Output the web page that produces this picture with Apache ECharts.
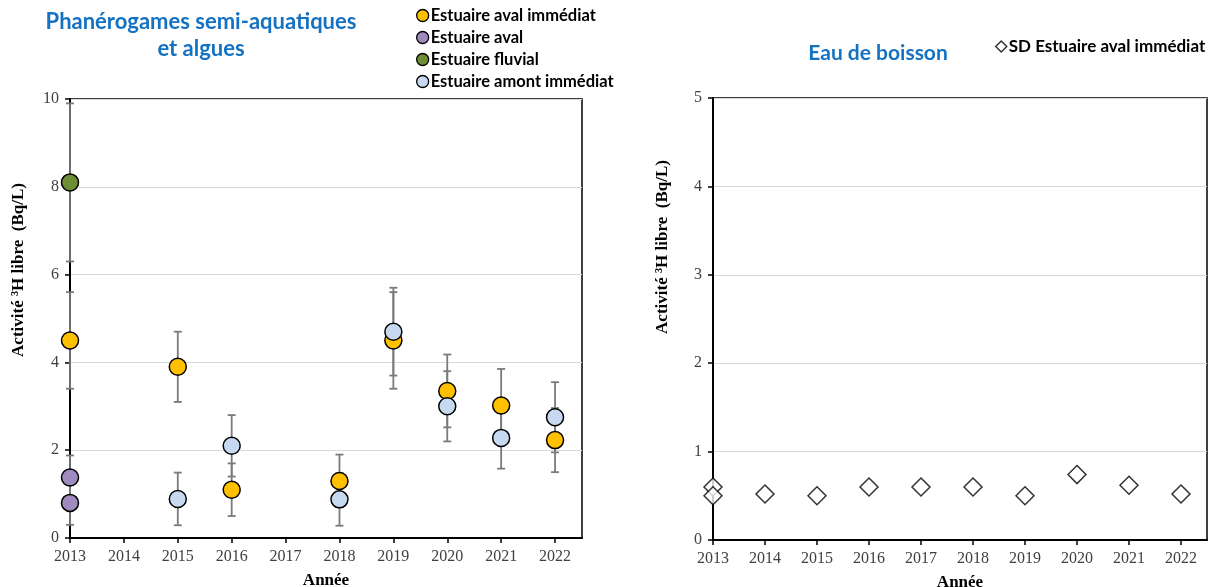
<!DOCTYPE html>
<html>
<head>
<meta charset="utf-8">
<script src="https://cdn.jsdelivr.net/npm/echarts@6/dist/echarts.min.js"></script>
<style>
html,body{margin:0;padding:0;background:#fff;}
#chart{width:1215px;height:587px;}
</style>
</head>
<body>
<div id="chart"></div>
<script>
// ---- Data ----
const years = [2013, 2014, 2015, 2016, 2017, 2018, 2019, 2020, 2021, 2022];
const leftTicks = [0, 2, 4, 6, 8, 10];
const rightTicks = [0, 1, 2, 3, 4, 5];

const avalImmediatX = [2013, 2015, 2016, 2018, 2019, 2020, 2021, 2022];
const avalImmediatY = [4.5, 3.9, 1.1, 1.3, 4.5, 3.35, 3.02, 2.23];
const avalImmediatErr = [1.1, 0.8, 0.6, 0.6, 1.1, 0.83, 0.83, 0.73];

const avalX = [2013, 2013];
const avalY = [1.38, 0.8];
const avalErr = [0.5, 0.5];

const fluvialX = [2013];
const fluvialY = [8.1];
const fluvialErr = [1.8];

const amontX = [2015, 2016, 2018, 2019, 2020, 2021, 2022];
const amontY = [0.89, 2.1, 0.88, 4.7, 3.0, 2.28, 2.75];
const amontErr = [0.6, 0.7, 0.6, 1.0, 0.8, 0.7, 0.8];

const eauX = [2013, 2013, 2014, 2015, 2016, 2017, 2018, 2019, 2020, 2021, 2022];
const eauY = [0.60, 0.50, 0.52, 0.50, 0.60, 0.60, 0.60, 0.50, 0.74, 0.62, 0.52];

// ---- Helpers ----
const pts = (xs, ys) => xs.map((x, i) => [x, ys[i]]);
const errs = (xs, ys, es) => xs.map((x, i) => [x, ys[i] - es[i], ys[i] + es[i]]);

const serif = 'Liberation Serif';
const sans = 'Lato';
const blue = '#1572C2';

function errorRender(params, api) {
  const x = api.value(0);
  const lo = api.coord([x, api.value(1)]);
  const hi = api.coord([x, api.value(2)]);
  const w = 4;
  const style = { stroke: '#7a7a7a', lineWidth: 1.8 };
  return {
    type: 'group',
    children: [
      { type: 'line', shape: { x1: lo[0], y1: lo[1], x2: hi[0], y2: hi[1] }, style },
      { type: 'line', shape: { x1: lo[0] - w, y1: lo[1], x2: lo[0] + w, y2: lo[1] }, style },
      { type: 'line', shape: { x1: hi[0] - w, y1: hi[1], x2: hi[0] + w, y2: hi[1] }, style }
    ]
  };
}

function xAxisCfg(gridIndex) {
  return {
    type: 'value', gridIndex, min: 2013, max: 2022.5, interval: 1,
    name: 'Année', nameLocation: 'middle', nameGap: 34,
    nameTextStyle: { fontFamily: serif, fontWeight: 'bold', fontSize: 17, color: '#000' },
    axisLine: { show: true, onZero: false, lineStyle: { color: '#000', width: 2 } },
    axisTick: { show: true, length: 5, lineStyle: { color: '#000', width: 1.5 }, customValues: years },
    axisLabel: { customValues: years, fontFamily: serif, fontSize: 16, color: '#404040', margin: 11,
      formatter: v => String(v) },
    splitLine: { show: false }
  };
}

function yAxisCfg(gridIndex, max, interval, ticks, pad) {
  return {
    type: 'value', gridIndex, min: 0, max, interval,
    name: 'Activité ³H libre  (Bq/L)', nameLocation: 'middle', nameGap: gridIndex === 0 ? 43 : 42,
    nameTextStyle: { fontFamily: serif, fontWeight: 'bold', fontSize: 17, color: '#000', padding: pad },
    axisLine: { show: true, onZero: false, lineStyle: { color: '#000', width: 2 } },
    axisTick: { show: true, length: 5, lineStyle: { color: '#000', width: 1.5 } },
    axisLabel: { fontFamily: serif, fontSize: 16, color: '#404040', margin: 11 },
    splitLine: { show: true, lineStyle: { color: '#d9d9d9', width: 1 } }
  };
}

const circleStyle = c => ({ color: c, borderColor: '#000', borderWidth: 1.5, opacity: 1 });

const option = {
  animation: false,
  backgroundColor: '#fff',
  title: [
    { text: 'Phanérogames semi-aquatiques\net algues', left: 196, top: 3, textAlign: 'center',
      textStyle: { fontFamily: sans, fontWeight: 'bold', fontSize: 22, color: blue, lineHeight: 27, align: 'center' } },
    { text: 'Eau de boisson', left: 873, top: 35, textAlign: 'center',
      textStyle: { fontFamily: sans, fontWeight: 'bold', fontSize: 21, color: blue, lineHeight: 27 } }
  ],
  legend: [
    { orient: 'vertical', left: 411, top: 2, itemWidth: 12, itemHeight: 12, itemGap: 5,
      icon: 'circle',
      data: ['Estuaire aval immédiat', 'Estuaire aval', 'Estuaire fluvial', 'Estuaire amont immédiat'],
      itemStyle: { borderColor: '#000', borderWidth: 1.3 },
      textStyle: { fontFamily: sans, fontWeight: 'bold', fontSize: 16.5, lineHeight: 16, color: '#000', padding: [0, 0, 0, -3] } },
    { orient: 'vertical', left: 990, top: 33, itemWidth: 11, itemHeight: 11,
      icon: 'diamond',
      data: ['SD Estuaire aval immédiat'],
      itemStyle: { color: '#fff', borderColor: '#000', borderWidth: 1.5 },
      textStyle: { fontFamily: sans, fontWeight: 'bold', fontSize: 17, lineHeight: 17, color: '#000', padding: [0, 0, 0, -3] } }
  ],
  grid: [
    { left: 70, top: 99, width: 512, height: 439, show: true, borderColor: '#000', borderWidth: 1.5, backgroundColor: '#fff', outerBoundsMode: 'none', containLabel: false },
    { left: 713, top: 98, width: 494, height: 442, show: true, borderColor: '#000', borderWidth: 1.5, backgroundColor: '#fff', outerBoundsMode: 'none', containLabel: false }
  ],
  xAxis: [xAxisCfg(0), xAxisCfg(1)],
  yAxis: [yAxisCfg(0, 10, 2, leftTicks, [0, 0, 0, 97]), yAxisCfg(1, 5, 1, rightTicks, [0, 0, 0, 144])],
  series: [
    { type: 'custom', name: 'err1', xAxisIndex: 0, yAxisIndex: 0, renderItem: errorRender, data: errs(fluvialX, fluvialY, fluvialErr), z: 1 },
    { type: 'custom', name: 'err2', xAxisIndex: 0, yAxisIndex: 0, renderItem: errorRender, data: errs(avalX, avalY, avalErr), z: 1 },
    { type: 'custom', name: 'err3', xAxisIndex: 0, yAxisIndex: 0, renderItem: errorRender, data: errs(avalImmediatX, avalImmediatY, avalImmediatErr), z: 1 },
    { type: 'custom', name: 'err4', xAxisIndex: 0, yAxisIndex: 0, renderItem: errorRender, data: errs(amontX, amontY, amontErr), z: 1 },
    { type: 'scatter', name: 'Estuaire aval immédiat', xAxisIndex: 0, yAxisIndex: 0, symbol: 'circle', symbolSize: 17,
      itemStyle: circleStyle('#FFC000'), data: pts(avalImmediatX, avalImmediatY), z: 3 },
    { type: 'scatter', name: 'Estuaire aval', xAxisIndex: 0, yAxisIndex: 0, symbol: 'circle', symbolSize: 17,
      itemStyle: circleStyle('#A08BBE'), data: pts(avalX, avalY), z: 3 },
    { type: 'scatter', name: 'Estuaire fluvial', xAxisIndex: 0, yAxisIndex: 0, symbol: 'circle', symbolSize: 17,
      itemStyle: circleStyle('#6E8E35'), data: pts(fluvialX, fluvialY), z: 3 },
    { type: 'scatter', name: 'Estuaire amont immédiat', xAxisIndex: 0, yAxisIndex: 0, symbol: 'circle', symbolSize: 17,
      itemStyle: circleStyle('#C6D9F0'), data: pts(amontX, amontY), z: 4 },
    { type: 'scatter', name: 'SD Estuaire aval immédiat', xAxisIndex: 1, yAxisIndex: 1, symbol: 'diamond', symbolSize: [18, 18],
      itemStyle: { color: '#fff', borderColor: '#000', borderWidth: 1.5 }, data: pts(eauX, eauY), z: 3 }
  ]
};

const chart = echarts.init(document.getElementById('chart'), null, { renderer: 'canvas' });
chart.setOption(option);
</script>
</body>
</html>
